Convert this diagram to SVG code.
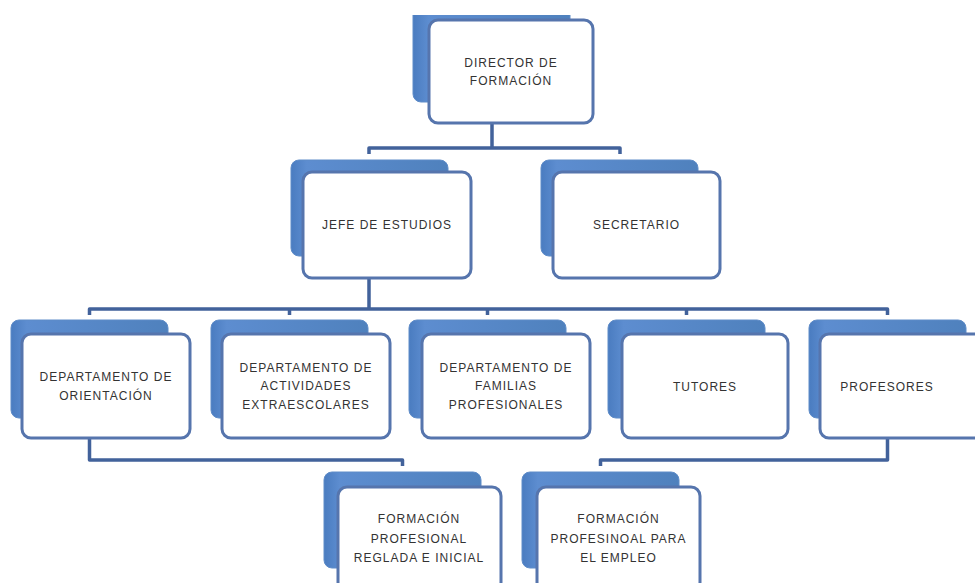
<svg xmlns="http://www.w3.org/2000/svg" width="975" height="583" viewBox="0 0 975 583">
<defs>
<linearGradient id="bg" x1="0" y1="0" x2="1" y2="0">
<stop offset="0" stop-color="#4a7cc0"/>
<stop offset="0.1" stop-color="#5d8dd0"/>
<stop offset="1" stop-color="#4f81bd"/>
</linearGradient>
<clipPath id="topclip"><rect x="0" y="15" width="975" height="568"/></clipPath>
</defs>
<style>
.back{fill:url(#bg);stroke:#5f8cc8;stroke-width:1}
.front{fill:#ffffff;stroke:#5675ad;stroke-width:3}
.lbl{font-family:"Liberation Sans",Arial,sans-serif;font-size:12px;letter-spacing:1px;fill:#333333;text-anchor:middle}
.conn{fill:none;stroke:#42629b;stroke-width:3.5;stroke-linejoin:round}
</style>
<rect width="975" height="583" fill="#ffffff"/>
<g id="connectors">
<path class="conn" d="M492,100 V148 M369,154 V148 H620 V154"/>
<path class="conn" d="M369,250 V309 M89.5,315 V309 H887.5 V315 M289.5,309 V315 M487.5,309 V315 M686.5,309 V315"/>
<path class="conn" d="M89.5,415 V460 H402.5 V466"/>
<path class="conn" d="M887.5,415 V460 H600.5 V466"/>
</g>
<g id="director" clip-path="url(#topclip)">
<rect class="back" x="413" y="6" width="157" height="96" rx="8"/>
<rect class="front" x="429" y="20" width="164" height="103" rx="9"/>
<text class="lbl" x="511" y="67">DIRECTOR DE</text>
<text class="lbl" x="511" y="85">FORMACIÓN</text>
</g>
<g id="jefe">
<rect class="back" x="291" y="160" width="157" height="96" rx="8"/>
<rect class="front" x="303" y="172" width="168" height="106" rx="9"/>
<text class="lbl" x="387" y="229">JEFE DE ESTUDIOS</text>
</g>
<g id="secretario">
<rect class="back" x="541" y="160" width="157" height="96" rx="8"/>
<rect class="front" x="553" y="172" width="167" height="106" rx="9"/>
<text class="lbl" x="636.5" y="229">SECRETARIO</text>
</g>
<g id="dep-orientacion">
<rect class="back" x="11" y="320" width="157" height="98" rx="8"/>
<rect class="front" x="22" y="334" width="168" height="104" rx="9"/>
<text class="lbl" x="106" y="381">DEPARTAMENTO DE</text>
<text class="lbl" x="106" y="400">ORIENTACIÓN</text>
</g>
<g id="dep-actividades">
<rect class="back" x="211" y="320" width="157" height="98" rx="8"/>
<rect class="front" x="222" y="334" width="168" height="104" rx="9"/>
<text class="lbl" x="306" y="372">DEPARTAMENTO DE</text>
<text class="lbl" x="306" y="390">ACTIVIDADES</text>
<text class="lbl" x="306" y="409">EXTRAESCOLARES</text>
</g>
<g id="dep-familias">
<rect class="back" x="409" y="320" width="157" height="98" rx="8"/>
<rect class="front" x="422" y="334" width="168" height="104" rx="9"/>
<text class="lbl" x="506" y="372">DEPARTAMENTO DE</text>
<text class="lbl" x="506" y="390">FAMILIAS</text>
<text class="lbl" x="506" y="409">PROFESIONALES</text>
</g>
<g id="tutores">
<rect class="back" x="608" y="320" width="157" height="98" rx="8"/>
<rect class="front" x="622" y="334" width="166" height="104" rx="9"/>
<text class="lbl" x="705" y="391">TUTORES</text>
</g>
<g id="profesores">
<rect class="back" x="809" y="320" width="157" height="98" rx="8"/>
<rect class="front" x="820" y="334" width="168" height="104" rx="9"/>
<text class="lbl" x="887" y="391">PROFESORES</text>
</g>
<g id="fp-reglada">
<rect class="back" x="324" y="472" width="157" height="96" rx="8"/>
<rect class="front" x="338" y="487" width="163" height="104" rx="9"/>
<text class="lbl" x="419" y="523">FORMACIÓN</text>
<text class="lbl" x="419" y="543">PROFESIONAL</text>
<text class="lbl" x="419" y="562">REGLADA E INICIAL</text>
</g>
<g id="fp-empleo">
<rect class="back" x="522" y="472" width="157" height="96" rx="8"/>
<rect class="front" x="537" y="487" width="163" height="104" rx="9"/>
<text class="lbl" x="618.5" y="523">FORMACIÓN</text>
<text class="lbl" x="618.5" y="543">PROFESINOAL PARA</text>
<text class="lbl" x="618.5" y="562">EL EMPLEO</text>
</g>
</svg>
